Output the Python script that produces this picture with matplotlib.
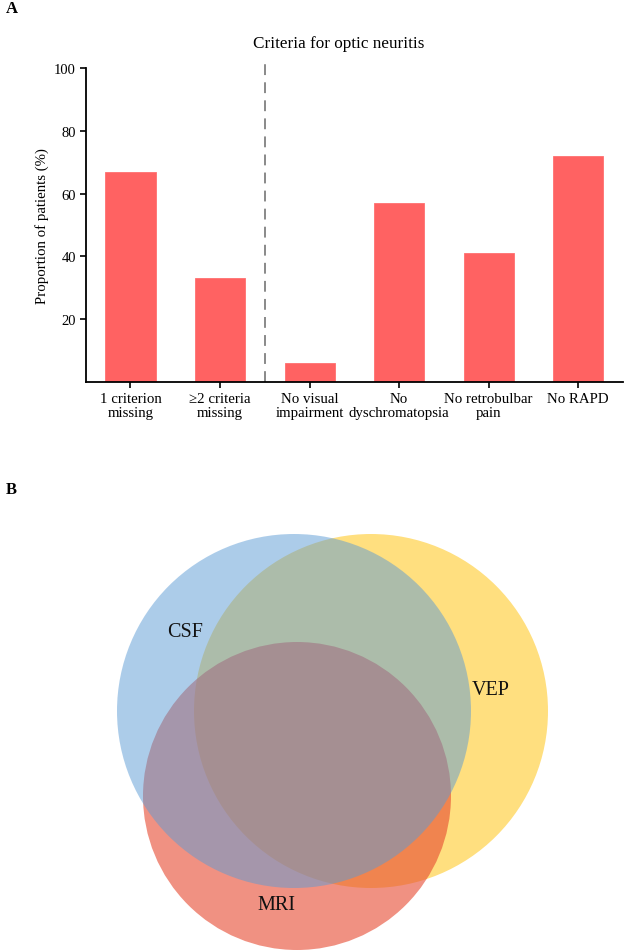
import matplotlib
matplotlib.use("Agg")
import matplotlib.pyplot as plt
from matplotlib.patches import Circle

plt.rcParams['font.family'] = ['Liberation Serif', 'DejaVu Serif']

# ---- data ----
categories = ["1 criterion\nmissing", "\u22652 criteria\nmissing", "No visual\nimpairment",
              "No\ndyschromatopsia", "No retrobulbar\npain", "No RAPD"]
proportions = [67, 33, 6, 57, 41, 72]
yticks = [20, 40, 60, 80, 100]
venn_labels = ["CSF", "VEP", "MRI"]

W, H = 624, 953
fig = plt.figure(figsize=(W / 100, H / 100), dpi=100)

# ---- Panel A ----
ax = fig.add_axes([85.7 / W, 1 - 383 / H, (623 - 85.7) / W, (383 - 69) / H])
x = list(range(len(categories)))
ax.bar(x, proportions, width=0.56, color="#FF6262", edgecolor="#FF7070", linewidth=0.6, zorder=2)
ax.set_xlim(-0.5, len(categories) - 0.5)
ax.set_ylim(0, 100)
ax.set_yticks(yticks)
ax.set_yticklabels([str(t) for t in yticks], fontsize=10.5)
ax.set_xticks(x)
ax.set_xticklabels(categories, fontsize=10.7, linespacing=1.1)
ax.tick_params(axis="both", direction="out", length=4, width=1.2, pad=3)
for s in ["top", "right"]:
    ax.spines[s].set_visible(False)
for s in ["left", "bottom"]:
    ax.spines[s].set_linewidth(1.3)
ax.set_ylabel("Proportion of patients (%)", fontsize=10.7, labelpad=4)
ax.plot([1.5, 1.5], [0, 101.5], color="#808080", linestyle=(0, (6, 4)), linewidth=1.3, clip_on=False)
fig.text(339 / W, 1 - 44 / H, "Criteria for optic neuritis", fontsize=12.3, ha="center", va="center")
fig.text(6 / W, 1 - 9 / H, "A", fontsize=12, fontweight="bold", ha="left", va="center")
fig.text(6 / W, 1 - 490 / H, "B", fontsize=12, fontweight="bold", ha="left", va="center")

# ---- Panel B (Venn) ----
vx = fig.add_axes([0, 0, 1, 493 / H])
vx.set_xlim(0, W)
vx.set_ylim(H, 460)
vx.set_aspect("equal")
vx.axis("off")
vx.add_patch(Circle((371, 712), 177, facecolor="#FFC000", alpha=0.5, edgecolor="none"))
vx.add_patch(Circle((297, 797), 154, facecolor=(230 / 255, 72 / 255, 47 / 255), alpha=0.6, edgecolor="none"))
vx.add_patch(Circle((294, 712), 177, facecolor="#5B9BD5", alpha=0.5, edgecolor="none"))
label_pos = [(185, 633), (491, 691), (276, 906)]
for lab, (lx, ly) in zip(venn_labels, label_pos):
    vx.text(lx, ly, lab, fontsize=14.5, ha="center", va="center", color="#111111")

fig.savefig("out.png", dpi=100)
